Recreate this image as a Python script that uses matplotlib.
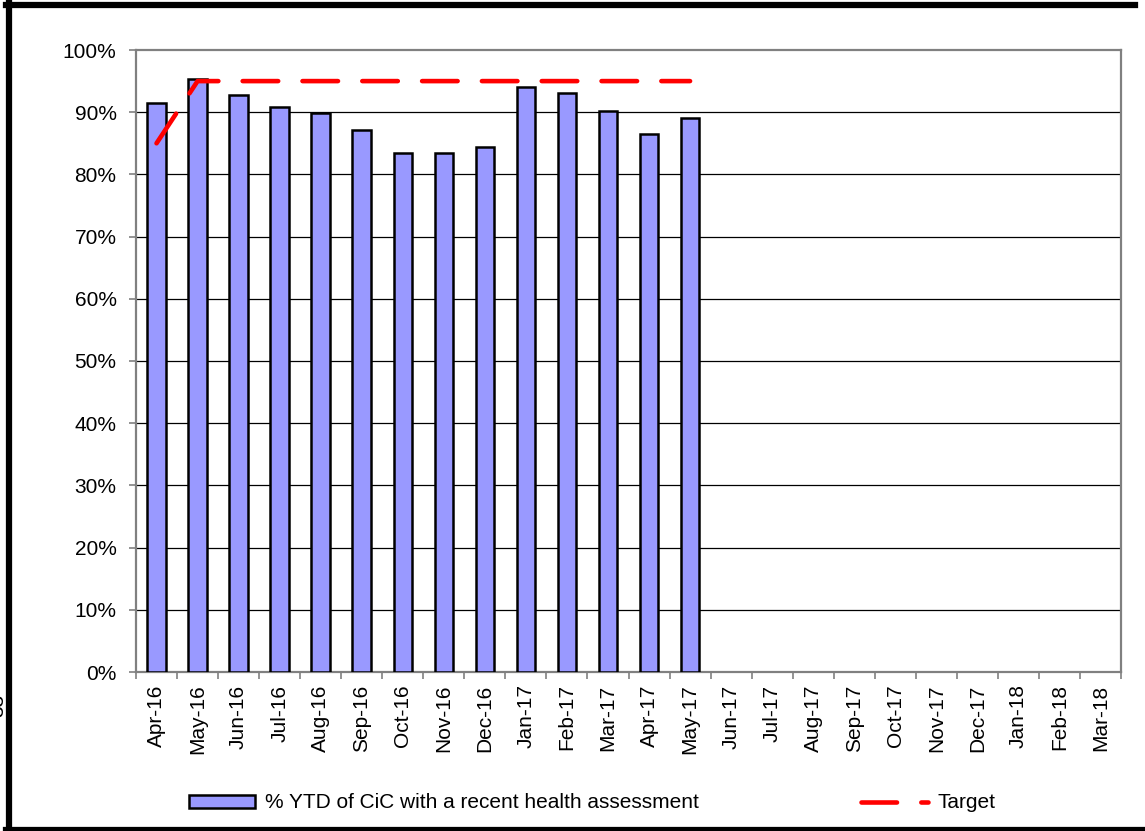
import numpy as np
import matplotlib
matplotlib.use('Agg')
import matplotlib.pyplot as plt
from matplotlib.lines import Line2D

plt.rcParams['font.family'] = ['Liberation Sans', 'DejaVu Sans']

months = ['Apr-16', 'May-16', 'Jun-16', 'Jul-16', 'Aug-16', 'Sep-16', 'Oct-16', 'Nov-16',
          'Dec-16', 'Jan-17', 'Feb-17', 'Mar-17', 'Apr-17', 'May-17', 'Jun-17', 'Jul-17',
          'Aug-17', 'Sep-17', 'Oct-17', 'Nov-17', 'Dec-17', 'Jan-18', 'Feb-18', 'Mar-18']
# % YTD of CiC with a recent health assessment (only first 14 months have data)
pct_ytd = [91.4, 95.4, 92.8, 90.8, 89.9, 87.2, 83.4, 83.5, 84.4, 94.1, 93.1, 90.2, 86.5, 89.0]
target = [85, 95, 95, 95, 95, 95, 95, 95, 95, 95, 95, 95, 95, 95]

W, H = 1145, 831
fig = plt.figure(figsize=(W / 100, H / 100), dpi=100)
ax = fig.add_axes([136 / W, 1 - 672 / H, (1121 - 136) / W, (672 - 50) / H])

x = np.arange(len(months))
bars = ax.bar(x[:len(pct_ytd)], pct_ytd, width=0.45, color='#9999FF', edgecolor='black',
              linewidth=1.8, zorder=3, label='% YTD of CiC with a recent health assessment')
line, = ax.plot(x[:len(target)], target, color='#FF0000', lw=3.3, linestyle=(0, (7.75, 5.3)),
                dash_capstyle='round', zorder=4, label='Target')

ax.set_xlim(-0.5, len(months) - 0.5)
ax.set_ylim(0, 100)
ax.set_yticks(np.arange(0, 101, 10))
ax.set_yticklabels([f'{v}%' for v in range(0, 101, 10)], fontsize=15)
ax.tick_params(axis='y', length=5, width=1.2, color='#808080', pad=9)

# category boundary ticks, labels at centres
ax.set_xticks(np.arange(-0.5, len(months), 1))
ax.set_xticklabels([])
ax.set_xticks(x, minor=True)
ax.set_xticklabels(months, minor=True, rotation=90, fontsize=15)
ax.tick_params(axis='x', which='major', length=5, width=1.2, color='#808080')
ax.tick_params(axis='x', which='minor', length=0, pad=9)

for v in range(10, 100, 10):
    ax.axhline(v, color='black', lw=0.9, zorder=1)
for s in ax.spines.values():
    s.set_color('#808080')
    s.set_linewidth(1.6)

leg = fig.legend(handles=[bars, line], loc='center', bbox_to_anchor=(0.517, 1 - 803 / H),
                 ncol=2, frameon=False, fontsize=15, handlelength=3.2, handleheight=0.6,
                 handletextpad=0.45, columnspacing=7.8)

# page frame and cut-off page number
fig.add_artist(Line2D([6 / W, 1135 / W], [1 - 5 / H, 1 - 5 / H], color='black', lw=4.5))
fig.add_artist(Line2D([9 / W, 9 / W], [0, 1 - 2 / H], color='black', lw=4.5))
fig.add_artist(Line2D([6 / W, 1], [1 / H, 1 / H], color='black', lw=4.5))
fig.text(-2 / W, 1 - 705 / H, '33', rotation=90, fontsize=15, ha='center', va='center')

fig.savefig('out.png', dpi=100)
